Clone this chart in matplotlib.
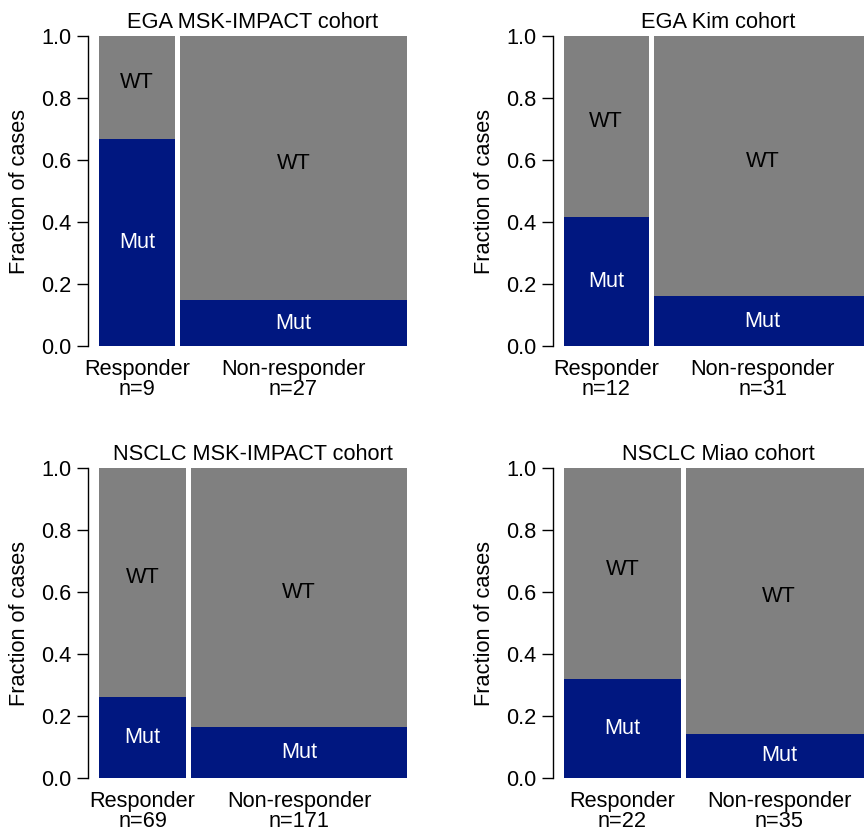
import matplotlib
matplotlib.use('Agg')
import matplotlib.pyplot as plt

plt.rcParams['font.family'] = ['Liberation Sans', 'DejaVu Sans']

# data: cohort, group sizes, fraction mutated
titles = ['EGA MSK-IMPACT cohort', 'EGA Kim cohort',
          'NSCLC MSK-IMPACT cohort', 'NSCLC Miao cohort']
groups = ['Responder', 'Non-responder']
n_resp = [9, 12, 69, 22]
n_nonresp = [27, 31, 171, 35]
mut_resp = [0.667, 0.417, 0.261, 0.318]
mut_nonresp = [0.148, 0.161, 0.166, 0.143]

blue = '#001780'
gray = '#808080'
fs = 15.7

fig = plt.figure(figsize=(8.64, 8.30), dpi=100)

# axes boxes (bar region) in figure fractions
W, H = 864.0, 830.0
boxes = [
    [99 / W, (H - 346) / H, 308 / W, 310 / H],
    [564 / W, (H - 346) / H, 308 / W, 310 / H],
    [99 / W, (H - 778) / H, 308 / W, 310 / H],
    [564 / W, (H - 778) / H, 308 / W, 310 / H],
]

gap = 5 / 308.0
for i in range(4):
    ax = fig.add_axes(boxes[i])
    total = n_resp[i] + n_nonresp[i]
    usable = 1 - gap
    w_r = usable * n_resp[i] / total
    xs = [0, w_r + gap]
    ws = [w_r, usable - w_r]
    muts = [mut_resp[i], mut_nonresp[i]]
    wts = [1 - m for m in muts]

    ax.bar(xs, muts, width=ws, align='edge', color=blue, linewidth=0)
    ax.bar(xs, wts, width=ws, bottom=muts, align='edge', color=gray, linewidth=0)

    centers = [x + w / 2 for x, w in zip(xs, ws)]
    for c, m in zip(centers, muts):
        ax.text(c, m / 2, 'Mut', color='white', fontsize=fs, ha='center', va='center')
        ax.text(c, min(m + (1 - m) / 2 + 0.015, 0.85), 'WT', color='black', fontsize=fs,
                ha='center', va='center')

    ax.set_xlim(0, 1)
    ax.set_ylim(0, 1)
    ax.set_yticks([0, 0.2, 0.4, 0.6, 0.8, 1.0])
    ax.set_yticklabels(['0.0', '0.2', '0.4', '0.6', '0.8', '1.0'])
    ns = [n_resp[i], n_nonresp[i]]
    ax.set_xticks(centers)
    ax.set_xticklabels([f'{g}\nn={n}' for g, n in zip(groups, ns)])
    for lab in ax.get_xticklabels():
        lab.set_linespacing(0.95)

    ax.tick_params(axis='y', direction='out', length=8, width=1, labelsize=fs, pad=4)
    ax.tick_params(axis='x', length=0, labelsize=fs, pad=9)

    for s in ['top', 'right', 'bottom']:
        ax.spines[s].set_visible(False)
    ax.spines['left'].set_position(('outward', 8))
    ax.spines['left'].set_bounds(0, 1)
    ax.spines['left'].set_linewidth(1)

    ax.set_ylabel('Fraction of cases', fontsize=fs)
    ax.yaxis.set_label_coords(-(99 - 30) / 308.0, 0.5)
    ax.set_title(titles[i], fontsize=fs, pad=6)

fig.savefig('out.png', dpi=100)
plt.close(fig)
